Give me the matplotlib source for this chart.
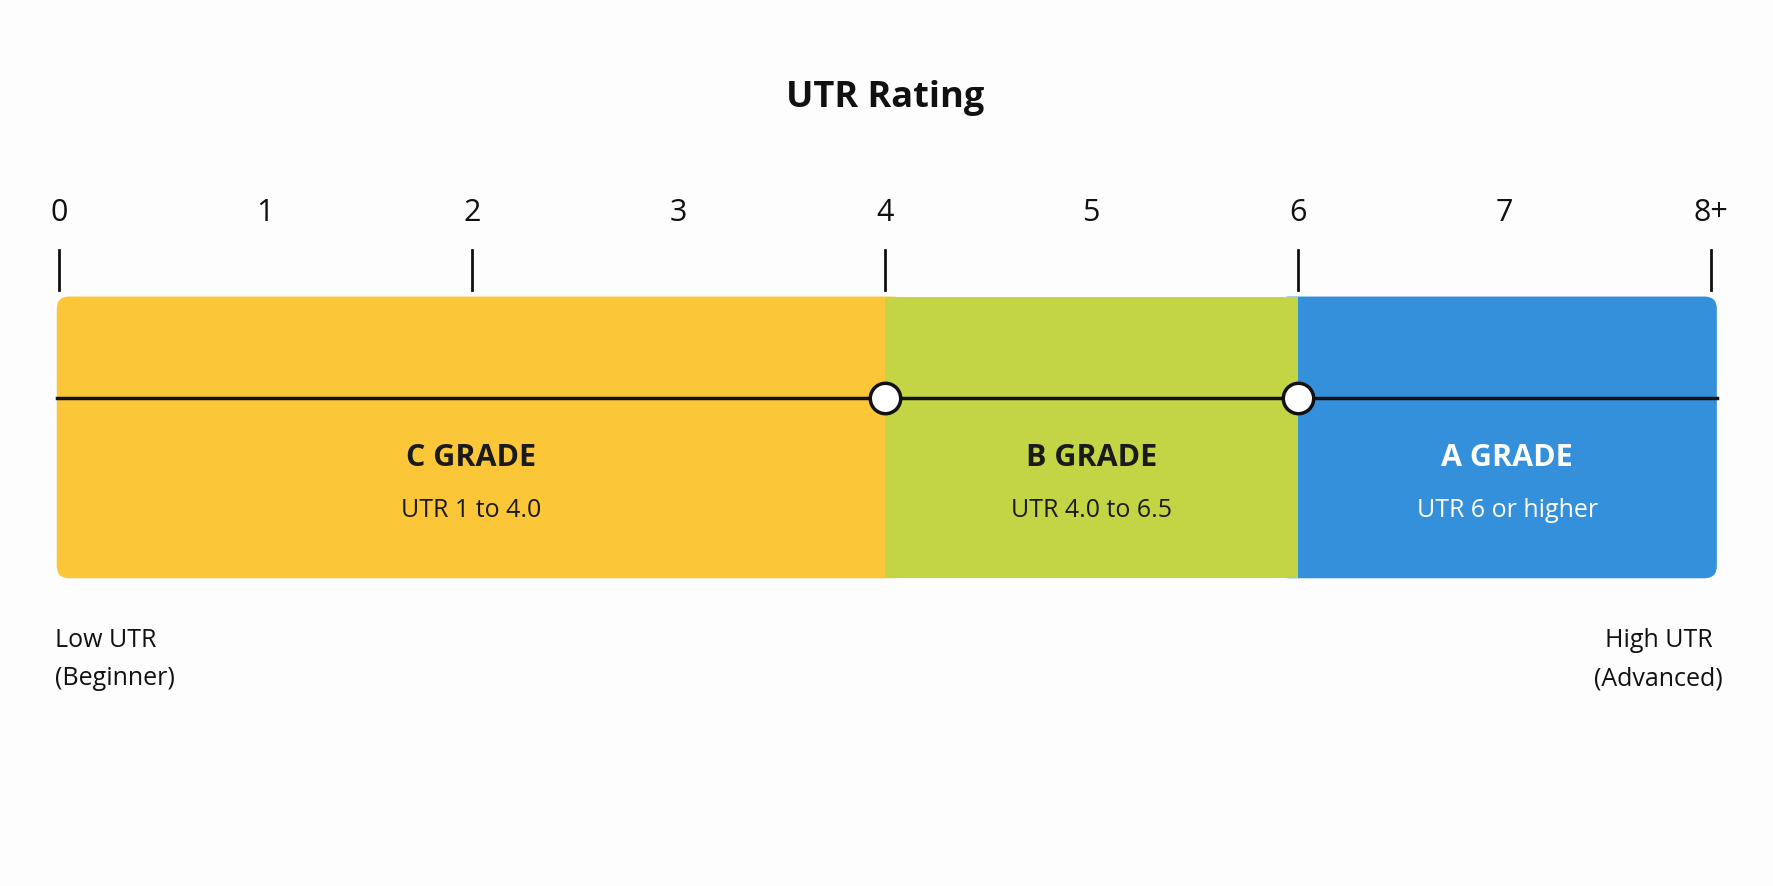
import matplotlib.pyplot as plt
from matplotlib.patches import FancyBboxPatch, Rectangle

plt.rcParams['font.family'] = ['Open Sans', 'DejaVu Sans']

tick_values = [0, 1, 2, 3, 4, 5, 6, 7, 8]
tick_labels = ['0', '1', '2', '3', '4', '5', '6', '7', '8+']
tick_marks = [0, 2, 4, 6, 8]
grade_names = ['C GRADE', 'B GRADE', 'A GRADE']
grade_ranges = ['UTR 1 to 4.0', 'UTR 4.0 to 6.5', 'UTR 6 or higher']
grade_bounds = [(-0.01, 4), (4, 6), (6, 8.03)]
grade_colors = ['#FBC638', '#C3D545', '#3590DC']
grade_text_colors = ['#1a1a1a', '#1a1a1a', 'white']
cut_points = [4, 6]

# y in reference pixels (784 tall), x in UTR units
px_per_unit = 182.5
fig = plt.figure(figsize=(17.74, 8.87), dpi=100)
fig.patch.set_facecolor('#fdfdfd')
ax = fig.add_axes([0, 0, 1, 1])
ax.set_xlim(-52 / px_per_unit, 8 + 56 / px_per_unit)
ax.set_ylim(784, 0)
ax.axis('off')

top, bot = 263, 512
h = bot - top
# outer bands rounded, middle one plain on top
for i in (0, 2):
    x0, x1 = grade_bounds[i]
    ext = 0.1
    if i == 0:
        x1 += ext
    else:
        x0 -= ext
    ax.add_patch(FancyBboxPatch((x0, top), x1 - x0, h,
                                boxstyle='round,pad=0,rounding_size=0.06',
                                mutation_aspect=px_per_unit,
                                fc=grade_colors[i], ec='none'))
x0, x1 = grade_bounds[1]
ax.add_patch(Rectangle((x0, top), x1 - x0, h, fc=grade_colors[1], ec='none'))

for i, (x0, x1) in enumerate(grade_bounds):
    cx = (x0 + x1) / 2
    ax.text(cx, 405, grade_names[i], ha='center', va='center', fontsize=22,
            fontweight='bold', color=grade_text_colors[i])
    ax.text(cx, 451, grade_ranges[i], ha='center', va='center', fontsize=18,
            color=grade_text_colors[i])

ax.plot([-0.01, 8.03], [353, 353], color='#111111', lw=2.5, zorder=3)
ax.scatter(cut_points, [353] * len(cut_points), s=480, c='white',
           edgecolors='#111111', linewidths=2.5, zorder=4)

for v, lab in zip(tick_values, tick_labels):
    ax.text(v, 188, lab, ha='center', va='center', fontsize=22, color='#111111')
for v in tick_marks:
    ax.plot([v, v], [222, 257], color='#111111', lw=2)

ax.text(4, 87, 'UTR Rating', ha='center', va='center', fontsize=26,
        fontweight='bold', color='#111111')
ax.text(-0.02, 583, 'Low UTR\n(Beginner)', ha='left', va='center',
        fontsize=18, linespacing=1.7, color='#111111')
ax.text(8.06, 583, 'High UTR\n(Advanced)', ha='right', va='center',
        fontsize=18, linespacing=1.7, color='#111111', multialignment='center')

fig.savefig('out.png', dpi=100, facecolor=fig.get_facecolor())
